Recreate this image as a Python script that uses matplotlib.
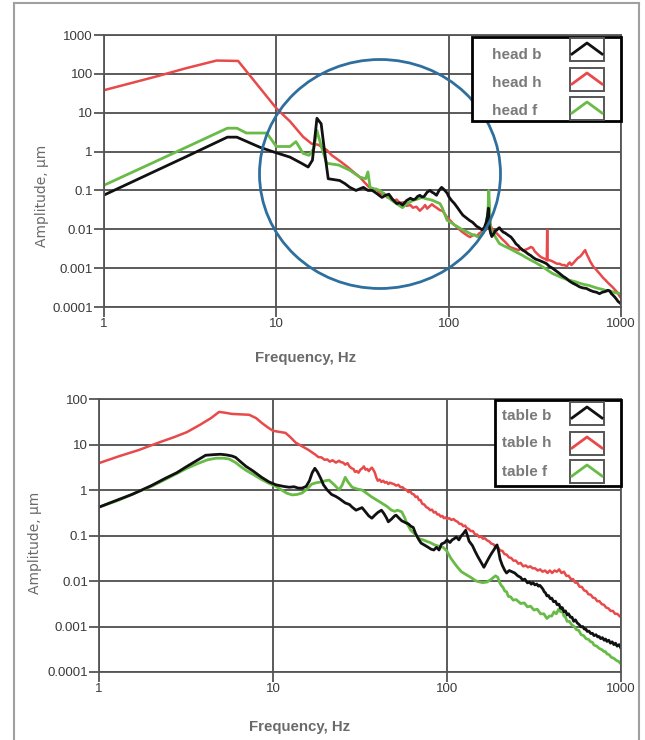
import matplotlib
matplotlib.use("Agg")
import matplotlib.pyplot as plt
from matplotlib.patches import Rectangle, Ellipse

plt.rcParams['font.family'] = ['Liberation Sans', 'DejaVu Sans']

# ---------------- data ----------------
y_ticks_top = [1e-4, 1e-3, 1e-2, 1e-1, 1, 10, 100, 1000]
y_labels_top = ["0.0001", "0.001", "0.01", "0.1", "1", "10", "100", "1000"]
y_ticks_bot = [1e-4, 1e-3, 1e-2, 1e-1, 1, 10, 100]
y_labels_bot = ["0.0001", "0.001", "0.01", "0.1", "1", "10", "100"]
x_ticks = [1, 10, 100, 1000]
x_labels = ["1", "10", "100", "1000"]

head_h_f = [1, 2, 3, 4.5, 6.0, 7.0, 8.0, 10, 12, 14.3, 16, 17.5, 19.6, 21, 23, 25.6, 28,
            30.5, 33, 36, 38, 40, 42, 44, 46, 48, 50, 52, 55, 57, 60, 62, 65, 68, 71, 73, 75, 77, 80,
            82, 85, 89, 92, 95, 98, 102, 106, 110, 116, 120, 125, 129, 133, 138, 142, 146, 150, 155,
            160, 164, 167, 170, 172, 174, 177, 182, 186, 190, 195, 200, 205, 212, 218, 226, 235, 245,
            255, 262, 270, 280, 290, 300, 308, 316, 325, 335, 345, 355, 365, 371, 373, 375, 385, 400,
            412, 425, 440, 455, 470, 485, 495, 505, 515, 525, 540, 560, 580, 600, 610, 620, 635, 650,
            662, 675, 690, 705, 720, 740, 760, 785, 810, 840, 865, 890, 920, 950, 975, 1000]
head_h_a = [38, 85, 140, 220, 215, 92, 44, 13, 6.0, 2.4, 1.6, 1.5, 1.1, 0.8, 0.6, 0.42, 0.3,
            0.22, 0.15, 0.10, 0.11, 0.08, 0.085, 0.066, 0.07, 0.055, 0.058, 0.047, 0.05, 0.04, 0.042,
            0.036, 0.038, 0.030, 0.036, 0.042, 0.034, 0.038, 0.044, 0.04, 0.036, 0.031, 0.03, 0.025,
            0.02, 0.017, 0.014, 0.012, 0.0097, 0.0085, 0.0075, 0.0068, 0.0063, 0.007, 0.0072, 0.0065,
            0.0078, 0.0085, 0.009, 0.0095, 0.011, 0.016, 0.028, 0.014, 0.011, 0.009, 0.0085, 0.0079,
            0.007, 0.0062, 0.0055, 0.0048, 0.0042, 0.0035, 0.0033, 0.0031, 0.0029, 0.0032, 0.0028,
            0.003, 0.0032, 0.0035, 0.0033, 0.0027, 0.0024, 0.0021, 0.0019, 0.0018, 0.0017, 0.0016,
            0.0095, 0.0016, 0.0016, 0.0015, 0.0014, 0.0013, 0.0013, 0.0012, 0.0012, 0.0011, 0.0013,
            0.0014, 0.0012, 0.0013, 0.0015, 0.0018, 0.002, 0.0024, 0.0027, 0.0029, 0.0022, 0.0018,
            0.0015, 0.0013, 0.0011, 0.001, 0.0009, 0.00078, 0.00068, 0.00057, 0.0005, 0.00042,
            0.00037, 0.00033, 0.00028, 0.00024, 0.0002, 0.00017]

head_b_f = [1, 2, 3, 5.2, 5.9, 8, 9.5, 12, 14, 15.3, 16.2, 17.2, 18.2, 19, 20, 23.3, 25, 26.7,
            29, 30.5, 32, 34, 36, 38, 41, 43, 45, 47, 50, 52, 54, 57, 60, 62, 64, 66, 68, 70, 72, 75,
            78, 80, 82, 85, 88, 91, 93, 95, 98, 100, 104, 108, 113, 117, 121, 126, 132, 138, 145,
            150, 156, 161, 165, 168, 170, 172, 175, 178, 182, 186, 190, 194, 197, 202, 207, 213, 220,
            230, 238, 246, 253, 260, 270, 280, 290, 300, 308, 320, 333, 345, 358, 370, 385, 400, 420,
            440, 460, 480, 500, 525, 550, 575, 600, 630, 660, 690, 720, 750, 780, 810, 840, 860, 880,
            900, 920, 940, 960, 980, 1000]
head_b_a = [0.076, 0.32, 0.74, 2.35, 2.35, 1.3, 1.0, 0.72, 0.5, 0.4, 0.6, 7.2, 5.2, 1.1, 0.2,
            0.18, 0.15, 0.12, 0.10, 0.11, 0.12, 0.1, 0.1, 0.085, 0.066, 0.075, 0.08, 0.06, 0.046,
            0.048, 0.042, 0.055, 0.063, 0.058, 0.06, 0.07, 0.075, 0.068, 0.07, 0.09, 0.1, 0.09, 0.085,
            0.075, 0.1, 0.12, 0.11, 0.1, 0.085, 0.07, 0.055, 0.046, 0.035, 0.028, 0.023, 0.02, 0.017,
            0.015, 0.012, 0.011, 0.0097, 0.011, 0.015, 0.022, 0.035, 0.012, 0.008, 0.0065, 0.0075,
            0.009, 0.0095, 0.0105, 0.011, 0.0095, 0.0085, 0.008, 0.0072, 0.0063, 0.0052, 0.0042,
            0.0038, 0.0033, 0.0029, 0.0026, 0.0023, 0.0021, 0.0019, 0.0017, 0.0016, 0.0015, 0.0014,
            0.0013, 0.0011, 0.001, 0.00085, 0.00073, 0.00062, 0.00055, 0.00047, 0.00041, 0.00037,
            0.00033, 0.00031, 0.0003, 0.00027, 0.00025, 0.00024, 0.00022, 0.00024, 0.00025, 0.00027,
            0.00026, 0.00022, 0.0002, 0.00018, 0.00016, 0.00014, 0.00013, 0.00012]

head_f_f = [1, 2, 3, 5.2, 5.9, 6.7, 8.8, 10, 12, 13, 14.3, 15.5, 16.5, 17.2, 18.2, 19.6, 23,
            26.7, 30.5, 33, 34, 35, 37, 40, 43, 47, 50, 54, 57, 62, 66, 70, 73, 75, 78, 81, 85, 89, 92,
            95, 98, 103, 108, 115, 121, 127, 135, 142, 150, 158, 165, 169, 171, 173, 175, 182, 188,
            197, 210, 222, 235, 250, 265, 280, 300, 318, 338, 360, 380, 400, 425, 450, 485, 520, 550,
            575, 610, 650, 690, 740, 790, 830, 880, 940, 1000]
head_f_a = [0.136, 0.56, 1.29, 4.0, 4.0, 3.0, 3.0, 1.35, 1.35, 1.8, 0.9, 0.8, 1.2, 3.5, 1.4,
            0.5, 0.45, 0.33, 0.22, 0.2, 0.3, 0.12, 0.11, 0.1, 0.075, 0.055, 0.045, 0.036, 0.045,
            0.055, 0.06, 0.066, 0.062, 0.06, 0.058, 0.055, 0.05, 0.046, 0.035, 0.024, 0.017, 0.015,
            0.013, 0.011, 0.0095, 0.0087, 0.0075, 0.007, 0.0063, 0.008, 0.011, 0.03, 0.1, 0.03, 0.01,
            0.008, 0.006, 0.0043, 0.0037, 0.0033, 0.0029, 0.0025, 0.0022, 0.0019, 0.0016, 0.0014,
            0.0012, 0.001, 0.00085, 0.00073, 0.00065, 0.00058, 0.00051, 0.00047, 0.00044, 0.00041,
            0.00038, 0.00036, 0.00033, 0.0003, 0.00028, 0.00026, 0.00025, 0.00023, 0.00022]

table_h_f = [1, 1.3, 1.7, 2.2, 2.7, 3.2, 3.8, 4.4, 4.9, 5.3, 5.8, 6.5, 7.3, 8.0, 8.6, 9.3, 10,
             10.8, 11.8, 12.7, 13.5, 14.8, 16, 17.5, 18.2, 19, 19.8, 20.5, 21.2, 22, 23, 24, 24.5,
             25.3, 26, 26.8, 27.5, 28.3, 29, 29.6, 30.3, 31, 31.8, 32.6, 33.3, 34, 34.8, 35.5, 36.3,
             37, 37.7, 38.5, 39.2, 40, 41, 42, 43, 44, 45, 46, 47, 48, 49.5, 51, 52.5, 54, 55.5, 57,
             58.5, 60, 61.5, 63, 64.5, 66, 67.5, 69, 70.5, 72, 74, 76, 78, 80, 82, 84, 86, 88, 90, 92,
             94, 96, 98, 100, 103, 106, 109, 112, 115, 118, 121, 124, 127, 130, 133, 137, 141, 145,
             149, 153, 157, 161, 165, 170, 175, 180, 185, 190, 196, 202, 208, 214, 220, 227, 234, 241,
             249, 257, 265, 274, 283, 292, 301, 311, 321, 332, 343, 354, 366, 378, 390, 402, 415, 428,
             441, 455, 470, 485, 500, 515, 530, 545, 560, 578, 596, 614, 632, 650, 670, 690, 710, 730,
             752, 775, 798, 822, 846, 872, 898, 925, 952, 980, 1000]
table_h_a = [3.9, 5.5, 7.6, 11, 14.5, 18.7, 27, 38, 52, 50, 47, 46, 45, 38, 30, 24, 20, 19, 18,
             14, 11, 9, 7.6, 6, 5.3, 5.2, 4.6, 4.7, 4.2, 4.5, 4.0, 4.4, 4.1, 4.0, 3.6, 3.9, 3.3, 3.0,
             2.9, 2.5, 2.6, 2.4, 2.8, 3.0, 3.3, 2.8, 2.9, 2.6, 2.9, 3.1, 2.8, 2.4, 1.9, 1.6, 1.7, 1.5,
             1.6, 1.45, 1.5, 1.35, 1.45, 1.4, 1.35, 1.25, 1.3, 1.15, 1.15, 1.05, 1.0, 0.9, 0.93, 0.82,
             0.8, 0.7, 0.72, 0.6, 0.6, 0.5, 0.48, 0.42, 0.4, 0.36, 0.37, 0.32, 0.33, 0.29, 0.29, 0.26,
             0.27, 0.24, 0.25, 0.23, 0.24, 0.22, 0.23, 0.21, 0.2, 0.18, 0.18, 0.16, 0.165, 0.145,
             0.14, 0.125, 0.125, 0.105, 0.105, 0.092, 0.095, 0.085, 0.087, 0.078, 0.074, 0.066,
             0.064, 0.056, 0.055, 0.047, 0.046, 0.039, 0.038, 0.033, 0.032, 0.028, 0.028, 0.024,
             0.025, 0.021, 0.022, 0.02, 0.021, 0.019, 0.019, 0.017, 0.018, 0.016, 0.017, 0.015,
             0.017, 0.015, 0.017, 0.016, 0.018, 0.015, 0.016, 0.013, 0.013, 0.011, 0.011, 0.0092,
             0.0092, 0.0075, 0.0074, 0.0062, 0.006, 0.0051, 0.005, 0.0043, 0.0042, 0.0036, 0.0036,
             0.0031, 0.003, 0.0026, 0.0025, 0.0022, 0.0022, 0.0019, 0.0019, 0.0017, 0.0016]

table_b_f = [1, 1.3, 1.55, 2.0, 2.4, 2.8, 3.2, 3.7, 4.1, 4.6, 5.0, 5.4, 5.8, 6.1, 6.5, 7.0, 7.7,
             8.6, 9.5, 10.4, 11.5, 12.4, 13.2, 14, 14.7, 15.5, 16.2, 16.8, 17.4, 18, 18.8, 19.5, 20.5,
             21.7, 23, 24, 25, 26, 27.5, 28.5, 30, 31, 32.5, 34, 35.5, 37, 38.5, 40, 42, 43.5, 45, 46,
             48, 50, 51, 53, 55, 58, 60, 62, 64, 66, 69, 71, 74, 78, 81, 84, 87, 90, 93, 97, 100, 104,
             107, 110, 113, 117, 120, 124, 128, 131, 134, 140, 145, 150, 156, 163, 168, 174, 180, 187,
             192, 194, 198, 202, 208, 215, 220, 228, 236, 245, 255, 265, 272, 280, 290, 298, 305, 312,
             320, 328, 335, 342, 350, 356, 362, 368, 375, 383, 392, 400, 410, 420, 430, 440, 450, 460,
             470, 480, 490, 500, 512, 523, 535, 547, 560, 575, 590, 603, 615, 628, 640, 655, 670, 685,
             700, 718, 735, 750, 765, 782, 800, 815, 830, 850, 870, 890, 910, 930, 950, 975, 1000]
table_b_a = [0.42, 0.62, 0.8, 1.25, 1.8, 2.4, 3.3, 4.6, 5.8, 6.0, 6.1, 5.9, 5.6, 5.2, 4.2, 3.3,
             2.6, 1.9, 1.5, 1.3, 1.2, 1.15, 1.18, 1.1, 1.1, 1.2, 1.6, 2.4, 3.0, 2.5, 1.8, 1.3, 1.0,
             0.8, 0.72, 0.65, 0.58, 0.52, 0.48, 0.42, 0.36, 0.38, 0.41, 0.33, 0.27, 0.24, 0.28, 0.32,
             0.36, 0.3, 0.24, 0.2, 0.23, 0.27, 0.28, 0.24, 0.21, 0.19, 0.18, 0.16, 0.15, 0.11, 0.08,
             0.068, 0.062, 0.055, 0.05, 0.048, 0.055, 0.048, 0.065, 0.07, 0.08, 0.07, 0.08, 0.085,
             0.093, 0.08, 0.095, 0.11, 0.13, 0.1, 0.075, 0.06, 0.045, 0.035, 0.027, 0.02, 0.025,
             0.032, 0.04, 0.05, 0.06, 0.062, 0.045, 0.03, 0.022, 0.017, 0.015, 0.017, 0.016, 0.015,
             0.013, 0.012, 0.0105, 0.011, 0.0091, 0.0095, 0.0085, 0.0092, 0.0082, 0.0086, 0.0077,
             0.008, 0.0072, 0.0066, 0.0058, 0.0055, 0.0047, 0.0048, 0.0041, 0.0042, 0.0035, 0.0036,
             0.003, 0.0031, 0.0025, 0.0026, 0.0021, 0.0022, 0.0018, 0.0019, 0.0016, 0.0016, 0.0013,
             0.0014, 0.0012, 0.0011, 0.00098, 0.001, 0.00088, 0.00088, 0.00078, 0.00079, 0.0007,
             0.00071, 0.00063, 0.00066, 0.00059, 0.0006, 0.00054, 0.00057, 0.0005, 0.00053, 0.00047,
             0.0005, 0.00043, 0.00046, 0.0004, 0.00043, 0.00037, 0.0004, 0.00033]

table_f_f = [1, 1.3, 1.6, 2.0, 2.4, 2.8, 3.2, 3.75, 4.2, 4.7, 5.2, 5.6, 6.1, 6.5, 7.0, 7.7, 8.6,
             9.5, 10.4, 11.2, 12, 12.9, 13.8, 14.7, 15.7, 16.7, 17.8, 19, 20, 21, 22.5, 24, 25, 26, 27,
             28.5, 30.5, 32.5, 34.5, 37, 39.5, 42, 45, 48, 50, 52, 55, 57, 59, 62, 65, 69, 73, 76, 80,
             85, 90, 95, 100, 105, 110, 115, 121, 128, 137, 147, 160, 170, 180, 190, 196, 200, 205,
             210, 215, 220, 225, 232, 240, 250, 265, 278, 290, 302, 316, 330, 345, 360, 375, 388, 400,
             412, 425, 438, 450, 460, 470, 480, 490, 505, 520, 537, 555, 572, 590, 610, 630, 650, 670,
             685, 700, 725, 750, 775, 800, 815, 830, 855, 880, 910, 940, 970, 1000]
table_f_a = [0.42, 0.6, 0.85, 1.2, 1.7, 2.3, 3.0, 3.9, 4.6, 5.0, 5.0, 4.8, 4.0, 3.3, 2.7, 2.2,
             1.7, 1.4, 1.2, 1.0, 0.85, 0.78, 0.8, 0.86, 1.05, 1.35, 1.45, 1.5, 1.6, 1.65, 1.3, 1.0,
             1.3, 1.9, 1.5, 1.15, 1.05, 1.0, 0.85, 0.7, 0.6, 0.52, 0.44, 0.36, 0.34, 0.36, 0.33, 0.25,
             0.18, 0.13, 0.11, 0.085, 0.08, 0.075, 0.07, 0.062, 0.058, 0.055, 0.045, 0.032, 0.025,
             0.02, 0.016, 0.014, 0.012, 0.01, 0.0092, 0.0095, 0.011, 0.013, 0.012, 0.0095, 0.008,
             0.0072, 0.006, 0.0058, 0.0046, 0.0045, 0.0038, 0.0039, 0.0032, 0.0033, 0.0027, 0.0028,
             0.0023, 0.0024, 0.0019, 0.0019, 0.0015, 0.0017, 0.0017, 0.0021, 0.0019, 0.0024, 0.0021,
             0.0022, 0.0017, 0.0016, 0.0013, 0.0013, 0.0011, 0.001, 0.00085, 0.00082, 0.00066,
             0.00063, 0.00054, 0.00052, 0.00046, 0.00045, 0.00039, 0.00037, 0.00033, 0.00031,
             0.00028, 0.00028, 0.00025, 0.00024, 0.00021, 0.0002, 0.00018, 0.00017, 0.00015]

top_names = ["head b", "head h", "head f"]
bot_names = ["table b", "table h", "table f"]

C_BLACK = "#111111"
C_RED = "#e8494a"
C_GREEN = "#68bb46"

# ---------------- figure ----------------
W, H = 645, 740
fig = plt.figure(figsize=(W / 100, H / 100), dpi=100)
fig.patch.set_facecolor("white")


def rect(l, t, r, b):
    return [l / W, 1 - b / H, (r - l) / W, (b - t) / H]


ax1 = fig.add_axes(rect(104, 35, 621, 307))
ax2 = fig.add_axes(rect(99, 399, 621, 672))


def style(ax, ylim, yt, yl):
    ax.set_xscale("log")
    ax.set_yscale("log")
    ax.set_xlim(1, 1000)
    ax.set_ylim(*ylim)
    ax.set_xticks(x_ticks)
    ax.set_xticklabels(x_labels)
    ax.set_yticks(yt)
    ax.set_yticklabels(yl)
    ax.minorticks_off()
    ax.grid(True, which="major", color="#4d4d4d", lw=1.3)
    ax.set_axisbelow(True)
    for s in ax.spines.values():
        s.set_color("#555555")
        s.set_linewidth(1.3)
    ax.tick_params(axis="both", colors="#555555", length=7, width=1.3,
                   labelcolor="#3a3a3a", labelsize=9.5, pad=1)


style(ax1, (1e-4, 1e3), y_ticks_top, y_labels_top)
style(ax2, (1e-4, 1e2), y_ticks_bot, y_labels_bot)

ax1.plot(head_h_f, head_h_a, color=C_RED, lw=1.8)
ax1.plot(head_f_f, head_f_a, color=C_GREEN, lw=2.0)
ax1.plot(head_b_f, head_b_a, color=C_BLACK, lw=2.0)

ax2.plot(table_h_f, table_h_a, color=C_RED, lw=1.8)
ax2.plot(table_f_f, table_f_a, color=C_GREEN, lw=2.0)
ax2.plot(table_b_f, table_b_a, color=C_BLACK, lw=2.0)

# ---------------- overlay (frame, legends, circle, labels) ----------------
ov = fig.add_axes([0, 0, 1, 1], zorder=10)
ov.set_xlim(0, W)
ov.set_ylim(H, 0)
ov.axis("off")

frame_c = "#a0a0a0"
ov.plot([14, 14], [3, H], color=frame_c, lw=1.5)
ov.plot([639, 639], [3, H], color=frame_c, lw=1.5)
ov.plot([14, 639], [3, 3], color=frame_c, lw=1.5)

ov.add_patch(Ellipse((380, 174), 241, 229, fill=False, edgecolor="#2e6f9e", lw=2))


def legend(x0, y0, x1, y1, names, text_x, text_ys, box_tops):
    ov.add_patch(Rectangle((x0, y0), x1 - x0, y1 - y0, facecolor="white",
                           edgecolor="black", lw=2))
    for name, ty, bt, c in zip(names, text_ys, box_tops, [C_BLACK, C_RED, C_GREEN]):
        ov.text(text_x, ty, name, color="#7a7a7a", fontsize=11, fontweight="bold",
                ha="left", va="center")
        ov.add_patch(Rectangle((570, bt), 34, 23, facecolor="white",
                               edgecolor="#555555", lw=1.4))
        ov.plot([572, 587, 602], [bt + 16, bt + 5, bt + 16], color=c, lw=2)


legend(472, 37, 621, 121, top_names, 492, [55, 83, 111], [38, 68, 97])
legend(495, 400, 621, 486, bot_names, 502, [416, 443, 472], [402, 432, 460])

ov.text(306, 358, "Frequency, Hz", color="#6a6a6a", fontsize=10.8, fontweight="bold",
        ha="center", va="center")
ov.text(300, 727, "Frequency, Hz", color="#6a6a6a", fontsize=10.8, fontweight="bold",
        ha="center", va="center")
ov.text(42, 196, "Amplitude, µm", color="#6a6a6a", fontsize=10, rotation=90,
        ha="center", va="center", family="DejaVu Sans")
ov.text(35, 543, "Amplitude, µm", color="#6a6a6a", fontsize=10, rotation=90,
        ha="center", va="center", family="DejaVu Sans")

fig.savefig("out.png", dpi=100)
